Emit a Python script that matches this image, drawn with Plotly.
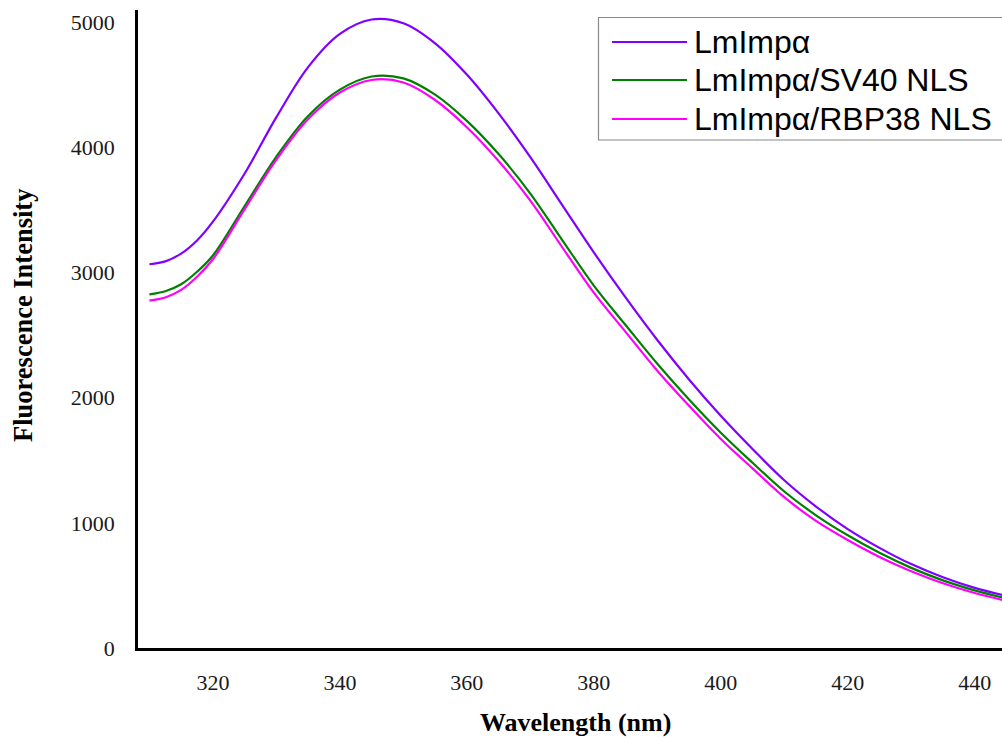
import plotly.graph_objects as go

# ---- data ----
wavelength = [310, 312.5, 315, 317.5, 320, 325, 330, 335, 340, 345, 350, 355, 360, 365, 370,
              375, 380, 385, 390, 395, 400, 405, 410, 415, 420, 425, 430, 435, 440, 445]

lmimp = [3065, 3088, 3150, 3255, 3405, 3790, 4240, 4640, 4905, 5020, 4990, 4830, 4580, 4270, 3920,
         3540, 3160, 2800, 2460, 2145, 1855, 1590, 1340, 1130, 950, 800, 670, 565, 480, 415]

lmimp_sv40 = [2825, 2850, 2905, 3005, 3135, 3530, 3925, 4250, 4460, 4565, 4550, 4420, 4210, 3945, 3630,
              3260, 2895, 2580, 2270, 1985, 1720, 1480, 1250, 1060, 900, 760, 640, 540, 460, 395]

lmimp_rbp38 = [2775, 2800, 2860, 2965, 3105, 3505, 3900, 4225, 4437, 4537, 4517, 4377, 4160, 3890, 3573,
               3203, 2838, 2525, 2215, 1935, 1670, 1435, 1205, 1015, 862, 727, 613, 517, 439, 377]

series_names = ["LmImpα", "LmImpα/SV40 NLS", "LmImpα/RBP38 NLS"]
series_values = [lmimp, lmimp_sv40, lmimp_rbp38]
series_colors = ["#8000FF", "#008000", "#FF00FF"]

x_ticks = [320, 340, 360, 380, 400, 420, 440]
y_ticks = [0, 1000, 2000, 3000, 4000, 5000]

# ---- layout geometry (pixels) ----
W, H = 1002, 740
L, R, T, B = 138, 0, 10, 92
PW, PH = W - L - R, H - T - B


def px(xp):
    return (xp - L) / PW


def py(yp):
    return (H - B - yp) / PH


fig = go.Figure()
for name, vals, col in zip(series_names, series_values, series_colors):
    fig.add_trace(go.Scatter(x=wavelength, y=vals, mode="lines", name=name,
                             line=dict(color=col, width=2.2, shape="spline", smoothing=1.0),
                             showlegend=False))

serif = "Liberation Serif, Times New Roman, serif"
sans = "Liberation Sans, Arial, sans-serif"

fig.update_layout(
    width=W, height=H,
    margin=dict(l=L, r=R, t=T, b=B, pad=0),
    paper_bgcolor="white", plot_bgcolor="white",
    xaxis=dict(range=[308.2, 444.3], tickvals=x_ticks, ticks="", showgrid=False,
               zeroline=False, showline=True, linecolor="black", linewidth=2.5,
               tickfont=dict(family=serif, size=22, color="#1a1a1a"),
               ticklabelstandoff=13),
    yaxis=dict(range=[0, 5096], tickvals=y_ticks, ticks="", showgrid=False,
               zeroline=False, showline=True, linecolor="black", linewidth=2.5,
               tickfont=dict(family=serif, size=22, color="#1a1a1a"),
               ticklabelstandoff=16),
    showlegend=False,
)

annotations = [
    dict(text="<b>Wavelength (nm)</b>", xref="paper", yref="paper",
         x=px(575), y=py(722), xanchor="center", yanchor="middle", showarrow=False,
         font=dict(family=serif, size=26, color="black")),
    dict(text="<b>Fluorescence Intensity</b>", xref="paper", yref="paper",
         x=px(23), y=py(316), xanchor="center", yanchor="middle", showarrow=False,
         textangle=-90, font=dict(family=serif, size=26.5, color="black")),
]

# manual legend box (long line samples as in the reference)
shapes = [dict(type="rect", xref="paper", yref="paper",
               x0=px(598.5), x1=px(1030), y0=py(140), y1=py(17.5),
               line=dict(color="#8a8a8a", width=1.2), fillcolor="white", layer="above")]
row_y = [42, 80, 119]
for name, col, yy in zip(series_names, series_colors, row_y):
    shapes.append(dict(type="line", xref="paper", yref="paper",
                       x0=px(612), x1=px(687), y0=py(yy), y1=py(yy),
                       line=dict(color=col, width=2.2), layer="above"))
    annotations.append(dict(text=name, xref="paper", yref="paper",
                            x=px(692), y=py(yy), xanchor="left", yanchor="middle",
                            showarrow=False,
                            font=dict(family=sans, size=32, color="black")))

fig.update_layout(shapes=shapes, annotations=annotations)
fig.write_html("out.html")
